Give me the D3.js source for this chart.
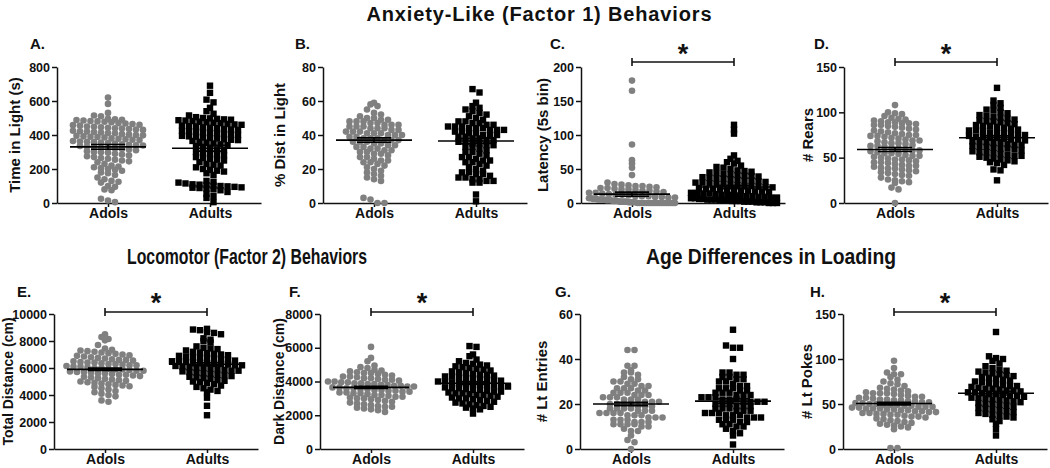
<!DOCTYPE html>
<html><head><meta charset="utf-8">
<script src="https://cdn.jsdelivr.net/npm/d3@7"></script>
<style>
body{margin:0;background:#fff;}
text{font-family:Arial,"Liberation Sans",sans-serif;}
</style>
</head><body>
<svg id="c" width="1050" height="468"></svg>
<script>
// ---------------- DATA ----------------
const categories = ["Adols", "Adults"];
const panelLetters = ["A.", "B.", "C.", "D.", "E.", "F.", "G.", "H."];
const yLabels = ["Time in Light (s)", "% Dist in Light", "Latency (5s bin)", "# Rears",
                 "Total Distance (cm)", "Dark Distance (cm)", "# Lt Entries", "# Lt Pokes"];
const yTicks = [
  [0, 200, 400, 600, 800], [0, 20, 40, 60, 80], [0, 50, 100, 150, 200], [0, 50, 100, 150],
  [0, 2000, 4000, 6000, 8000, 10000], [0, 2000, 4000, 6000, 8000], [0, 20, 40, 60], [0, 50, 100, 150]
];
const sectionTitles = ["Anxiety-Like (Factor 1) Behaviors", "Locomotor (Factor 2) Behaviors", "Age Differences in Loading"];
const significant = [false, false, true, true, true, true, false, true];
const groupMeans = [[330, 322], [37, 36.5], [13, 23.5], [59, 72], [5900, 6280], [3650, 3900], [20, 21.3], [50.5, 62]];
const groupSEM = [[14, 17], [1.3, 1.5], [3, 2.5], [2.2, 2], [90, 110], [60, 80], [0.8, 1], [1.5, 2]];

const adolsA = [620, 583, 530, 515, 510, 495, 492, 490, 488, 485, 482, 480, 478, 475, 470, 468, 465, 460, 458, 455, 450, 448, 445, 442, 440, 438, 435, 432, 430, 425, 422, 420, 418, 415, 412, 410, 405, 402, 400, 398, 395, 392, 390, 388, 385, 380, 378, 375, 372, 370, 365, 362, 360, 358, 355, 352, 350, 345, 342, 340, 338, 335, 332, 330, 325, 322, 320, 318, 315, 310, 305, 300, 298, 295, 290, 285, 280, 275, 270, 265, 260, 255, 250, 245, 240, 230, 220, 215, 210, 205, 200, 195, 190, 180, 175, 165, 150, 140, 130, 125, 120, 100, 95, 80, 75, 25, 15, 5];
const adultsA = [690, 648, 608, 592, 560, 540, 525, 515, 505, 500, 498, 495, 492, 490, 487, 485, 482, 478, 475, 472, 470, 465, 462, 460, 455, 452, 450, 445, 442, 440, 435, 432, 430, 425, 422, 420, 415, 412, 410, 405, 402, 400, 395, 392, 390, 385, 382, 380, 375, 372, 370, 365, 360, 355, 350, 345, 340, 335, 330, 320, 315, 310, 300, 295, 290, 285, 280, 270, 265, 260, 255, 250, 240, 230, 225, 220, 210, 200, 195, 190, 185, 175, 165, 130, 125, 120, 115, 110, 108, 105, 102, 100, 98, 95, 92, 90, 88, 85, 80, 75, 65, 55, 40, 30, 5];
const adolsB = [59, 58, 57, 55, 53, 52, 51, 50, 50, 49, 49, 48, 48, 48, 47, 47, 46, 46, 46, 45, 45, 45, 44, 44, 44, 43, 43, 42, 42, 42, 41, 41, 41, 40, 40, 40, 39, 39, 38, 38, 38, 37, 37, 37, 36, 36, 36, 35, 35, 34, 34, 33, 33, 32, 32, 31, 31, 30, 30, 29, 29, 28, 27, 27, 26, 25, 25, 24, 24, 23, 22, 21, 20, 19, 18, 17, 16, 15, 14, 13, 3, 2, 0, 0];
const adultsB = [67, 65, 59, 57, 56, 55, 54, 53, 52, 51, 50, 49, 48, 48, 47, 47, 46, 46, 45, 45, 45, 44, 44, 44, 43, 43, 43, 42, 42, 41, 41, 40, 40, 40, 39, 39, 38, 38, 37, 37, 36, 36, 35, 35, 34, 34, 33, 33, 32, 31, 30, 30, 29, 28, 27, 27, 26, 25, 25, 24, 24, 23, 22, 21, 20, 19, 18, 18, 17, 17, 16, 15, 15, 14, 14, 13, 13, 12, 12, 5, 1];
const adolsC = [180, 165, 86, 63, 58, 52, 41, 30, 28, 27, 26, 25, 25, 24, 23, 22, 22, 21, 20, 20, 19, 18, 18, 17, 16, 15, 15, 14, 13, 12, 12, 11, 10, 10, 10, 9, 9, 8, 8, 7, 7, 6, 6, 5, 5, 5, 5, 4, 4, 4, 3, 3, 3, 2, 2, 2, 2, 1, 1, 1, 1, 0, 0, 0, 0, 0, 0, 0, 0, 0, 0, 0, 0, 0, 0, 0, 0, 0, 0];
const adultsC = [115, 108, 102, 70, 65, 62, 60, 58, 55, 53, 52, 50, 48, 47, 46, 45, 44, 43, 42, 41, 40, 40, 39, 38, 37, 36, 36, 35, 34, 33, 33, 32, 31, 30, 30, 29, 28, 28, 27, 26, 25, 25, 24, 23, 23, 22, 21, 21, 20, 20, 19, 18, 18, 17, 17, 16, 15, 15, 14, 14, 13, 12, 12, 11, 11, 10, 10, 9, 9, 8, 8, 7, 7, 6, 6, 5, 5, 5, 4, 4, 4, 3, 3, 3, 2, 2, 2, 1, 1, 1, 0, 0, 0];
const adolsD = [108, 100, 99, 98, 96, 94, 93, 92, 91, 90, 89, 89, 88, 88, 87, 86, 86, 85, 84, 83, 82, 81, 80, 79, 78, 77, 76, 75, 75, 74, 74, 73, 72, 71, 70, 69, 69, 68, 67, 66, 66, 65, 64, 63, 63, 62, 61, 60, 59, 58, 58, 57, 56, 55, 55, 54, 53, 52, 52, 51, 50, 49, 48, 48, 47, 46, 45, 45, 44, 43, 42, 41, 41, 40, 39, 38, 38, 37, 36, 35, 34, 33, 32, 31, 30, 28, 26, 25, 24, 23, 22, 17, 15, 0];
const adultsD = [127, 113, 110, 108, 105, 103, 102, 100, 99, 97, 96, 95, 94, 93, 92, 91, 90, 90, 89, 88, 87, 86, 85, 85, 84, 83, 82, 81, 80, 80, 79, 78, 77, 77, 76, 75, 75, 74, 73, 73, 72, 72, 71, 70, 70, 69, 68, 68, 67, 66, 66, 65, 64, 64, 63, 62, 62, 61, 60, 60, 59, 58, 57, 56, 56, 55, 54, 53, 52, 52, 51, 50, 49, 48, 47, 46, 45, 44, 42, 37, 36, 25];
const adolsE = [8500, 8300, 8150, 8050, 7700, 7450, 7350, 7300, 7250, 7200, 7150, 7100, 7050, 7000, 6950, 6900, 6850, 6800, 6750, 6700, 6650, 6600, 6600, 6550, 6500, 6450, 6400, 6400, 6350, 6300, 6300, 6250, 6200, 6200, 6150, 6100, 6100, 6050, 6000, 6000, 5950, 5900, 5900, 5850, 5800, 5800, 5750, 5700, 5700, 5650, 5600, 5600, 5550, 5500, 5500, 5450, 5400, 5350, 5300, 5250, 5200, 5150, 5100, 5050, 5000, 4950, 4900, 4850, 4800, 4750, 4700, 4650, 4600, 4500, 4400, 4300, 4200, 4100, 4000, 3900, 3600, 3500];
const adultsE = [8900, 8850, 8800, 8650, 8600, 8500, 8200, 8100, 8000, 7900, 7600, 7500, 7450, 7400, 7300, 7200, 7150, 7100, 7050, 7000, 6950, 6900, 6850, 6800, 6750, 6700, 6700, 6650, 6600, 6550, 6500, 6500, 6450, 6400, 6400, 6350, 6300, 6300, 6250, 6200, 6200, 6150, 6100, 6050, 6000, 6000, 5950, 5900, 5850, 5800, 5800, 5750, 5700, 5650, 5600, 5550, 5500, 5450, 5400, 5350, 5300, 5250, 5200, 5100, 5050, 5000, 4950, 4900, 4800, 4700, 4600, 4500, 4400, 4300, 4200, 3800, 3200, 2500];
const adolsF = [6050, 5400, 5200, 4950, 4850, 4800, 4700, 4650, 4600, 4550, 4500, 4500, 4450, 4400, 4350, 4300, 4300, 4250, 4200, 4200, 4150, 4100, 4100, 4050, 4000, 4000, 3950, 3950, 3900, 3900, 3850, 3850, 3800, 3800, 3750, 3750, 3700, 3700, 3650, 3650, 3600, 3600, 3550, 3550, 3500, 3500, 3450, 3450, 3400, 3400, 3350, 3350, 3300, 3300, 3250, 3200, 3200, 3150, 3100, 3100, 3050, 3000, 3000, 2950, 2900, 2850, 2800, 2750, 2700, 2650, 2600, 2550, 2500, 2500, 2450, 2400, 2350, 2300, 2200];
const adultsF = [6100, 6050, 5600, 5500, 5300, 5200, 5100, 5050, 5000, 4950, 4900, 4850, 4800, 4750, 4700, 4650, 4600, 4550, 4500, 4450, 4400, 4400, 4350, 4300, 4300, 4250, 4200, 4200, 4150, 4100, 4100, 4050, 4000, 4000, 3950, 3900, 3900, 3850, 3800, 3800, 3750, 3700, 3700, 3650, 3600, 3600, 3550, 3500, 3500, 3450, 3400, 3400, 3350, 3300, 3300, 3250, 3200, 3200, 3150, 3100, 3050, 3000, 3000, 2950, 2900, 2850, 2800, 2750, 2700, 2650, 2600, 2550, 2500, 2450, 2400, 2350, 2100];
const adolsG = [44, 44, 37, 37, 35, 34, 34, 33, 32, 31, 31, 30, 30, 29, 29, 28, 28, 27, 27, 27, 26, 26, 25, 25, 25, 24, 24, 24, 23, 23, 23, 22, 22, 22, 21, 21, 21, 20, 20, 20, 20, 19, 19, 19, 18, 18, 18, 18, 17, 17, 17, 16, 16, 16, 16, 15, 15, 15, 14, 14, 14, 13, 13, 13, 12, 12, 12, 11, 11, 11, 11, 10, 10, 9, 8, 8, 6, 4, 3, 0];
const adultsG = [53, 46, 45, 45, 40, 34, 34, 33, 33, 32, 32, 31, 31, 30, 30, 29, 28, 28, 27, 27, 27, 26, 26, 25, 25, 25, 24, 24, 24, 23, 23, 23, 22, 22, 22, 21, 21, 21, 21, 20, 20, 20, 19, 19, 19, 18, 18, 18, 17, 17, 17, 16, 16, 16, 15, 15, 15, 14, 14, 14, 13, 13, 13, 12, 12, 11, 11, 10, 10, 9, 8, 7, 6, 2];
const adolsH = [98, 90, 85, 83, 83, 80, 77, 75, 73, 72, 70, 68, 67, 66, 65, 64, 63, 62, 62, 62, 61, 60, 59, 58, 58, 57, 57, 56, 55, 55, 54, 54, 53, 53, 52, 52, 51, 51, 50, 50, 49, 49, 49, 48, 48, 47, 47, 47, 46, 46, 45, 45, 45, 44, 44, 43, 43, 42, 42, 41, 41, 40, 40, 39, 39, 38, 38, 37, 36, 36, 35, 34, 33, 32, 31, 30, 29, 28, 27, 26, 25, 24, 22, 1, 1];
const adultsH = [130, 103, 101, 100, 98, 95, 92, 90, 88, 87, 86, 85, 84, 83, 82, 81, 80, 79, 78, 77, 76, 75, 74, 73, 72, 71, 70, 70, 69, 68, 67, 67, 66, 65, 65, 64, 63, 63, 62, 61, 61, 60, 59, 59, 58, 57, 57, 56, 55, 55, 54, 53, 52, 51, 50, 50, 49, 48, 47, 46, 45, 44, 43, 42, 41, 40, 39, 38, 37, 36, 35, 33, 31, 28, 22, 15];

const adolsSeries = [adolsA, adolsB, adolsC, adolsD, adolsE, adolsF, adolsG, adolsH];
const adultsSeries = [adultsA, adultsB, adultsC, adultsD, adultsE, adultsF, adultsG, adultsH];

// ---------------- LAYOUT ----------------
const svg = d3.select("#c");
const FONT = "Arial, 'Liberation Sans', sans-serif";
const rows = [
  {y0: 203, yTop: 67, letterY: 49, sigY: 62, starY: 48},
  {y0: 449, yTop: 314, letterY: 297, sigY: 312, starY: 297}
];
const panels = [
  {left: 57, row: 0, letterX: 30, labelX: 15, labelSize: 15},
  {left: 323, row: 0, letterX: 295, labelX: 280, labelSize: 15},
  {left: 581, row: 0, letterX: 550, labelX: 543, labelSize: 15},
  {left: 844, row: 0, letterX: 814, labelX: 808, labelSize: 15},
  {left: 54, row: 1, letterX: 17, labelX: 8, labelSize: 14},
  {left: 320, row: 1, letterX: 289, labelX: 279, labelSize: 14},
  {left: 580, row: 1, letterX: 555, labelX: 542, labelSize: 15},
  {left: 843, row: 1, letterX: 810, labelX: 807, labelSize: 15}
];
const axisW = 204;
const grayCol = "#808080";

function swarm(values, y, cx) {
  const pts = values.map(v => ({v, py: y(v)})).sort((a, b) => a.py - b.py);
  const binH = 5.2;
  const bins = new Map();
  pts.forEach(p => {
    const k = Math.floor((y.range()[0] - p.py) / binH);
    if (!bins.has(k)) bins.set(k, []);
    bins.get(k).push(p);
  });
  const out = [];
  bins.forEach(arr => {
    const n = arr.length;
    const sp = n > 1 ? Math.min(7, 86 / (n - 1)) : 0;
    arr.forEach((p, i) => out.push({v: p.v, px: cx + (i - (n - 1) / 2) * sp, py: p.py}));
  });
  return out;
}

panels.forEach((P, idx) => {
  const R = rows[P.row];
  const ticks = yTicks[idx];
  const y = d3.scaleLinear().domain([0, d3.max(ticks)]).range([R.y0, R.yTop]);
  const x = d3.scalePoint().domain(categories).range([P.left, P.left + axisW]).padding(0.5);
  const g = svg.append("g");

  const ya = g.append("g").attr("transform", `translate(${P.left},0)`)
    .call(d3.axisLeft(y).tickValues(ticks).tickFormat(d3.format("d")).tickSize(5).tickSizeOuter(0).tickPadding(2));
  ya.selectAll("path,line").attr("stroke", "#111").attr("stroke-width", 1.5);
  ya.selectAll("text").attr("font-size", 12.5).attr("font-weight", "bold").attr("fill", "#111")
    .attr("font-family", FONT);

  const xa = g.append("g").attr("transform", `translate(0,${R.y0})`)
    .call(d3.axisBottom(x).tickSize(4).tickSizeOuter(0).tickPadding(1));
  xa.selectAll("path,line").attr("stroke", "#111").attr("stroke-width", 1.5);
  xa.selectAll("text").attr("font-size", 14).attr("font-weight", "bold").attr("fill", "#111")
    .attr("font-family", FONT);

  g.append("text")
    .attr("transform", `translate(${P.labelX},${(R.y0 + R.yTop) / 2}) rotate(-90)`)
    .attr("text-anchor", "middle").attr("dy", "0.35em")
    .attr("font-size", P.labelSize).attr("font-weight", "bold").attr("fill", "#111")
    .text(yLabels[idx]);

  g.append("text").attr("x", P.letterX).attr("y", R.letterY)
    .attr("font-size", 15).attr("font-weight", "bold").attr("fill", "#111")
    .text(panelLetters[idx]);

  const adPts = swarm(adolsSeries[idx], y, x("Adols"));
  g.append("g").selectAll("circle").data(adPts).join("circle")
    .attr("cx", d => d.px).attr("cy", d => d.py).attr("r", 3.3).attr("fill", grayCol);
  const auPts = swarm(adultsSeries[idx], y, x("Adults"));
  const s = 6.4;
  g.append("g").selectAll("rect").data(auPts).join("rect")
    .attr("x", d => d.px - s / 2).attr("y", d => d.py - s / 2)
    .attr("width", s).attr("height", s).attr("fill", "#000");

  categories.forEach((c, ci) => {
    const cx = x(c), m = groupMeans[idx][ci], e = groupSEM[idx][ci];
    const lg = g.append("g").attr("stroke", "#000").attr("stroke-width", 1.6);
    lg.append("line").attr("x1", cx - 38).attr("x2", cx + 38).attr("y1", y(m)).attr("y2", y(m));
    lg.append("line").attr("x1", cx).attr("x2", cx).attr("y1", y(m - e)).attr("y2", y(m + e));
    [m - e, m + e].forEach(v => lg.append("line").attr("x1", cx - 17).attr("x2", cx + 17).attr("y1", y(v)).attr("y2", y(v)));
  });

  if (significant[idx]) {
    const x1 = x("Adols"), x2 = x("Adults");
    const sg = g.append("g").attr("stroke", "#111").attr("stroke-width", 1.6);
    sg.append("line").attr("x1", x1).attr("x2", x2).attr("y1", R.sigY).attr("y2", R.sigY);
    [x1, x2].forEach(xx => sg.append("line").attr("x1", xx).attr("x2", xx).attr("y1", R.sigY - 4).attr("y2", R.sigY + 4));
    g.append("text").attr("x", (x1 + x2) / 2).attr("y", R.starY + 15).attr("text-anchor", "middle")
      .attr("font-size", 27).attr("font-weight", "bold").attr("fill", "#111").text("*");
  }
});

svg.append("text").attr("x", 539).attr("y", 21).attr("text-anchor", "middle")
  .attr("font-size", 20).attr("font-weight", "bold").attr("fill", "#111")
  .attr("textLength", 345).attr("lengthAdjust", "spacing").text(sectionTitles[0]);
svg.append("text").attr("x", 247).attr("y", 264).attr("text-anchor", "middle")
  .attr("font-size", 22).attr("font-weight", "bold").attr("fill", "#111")
  .attr("textLength", 240).attr("lengthAdjust", "spacingAndGlyphs").text(sectionTitles[1]);
svg.append("text").attr("x", 771).attr("y", 264).attr("text-anchor", "middle")
  .attr("font-size", 22).attr("font-weight", "bold").attr("fill", "#111")
  .attr("textLength", 250).attr("lengthAdjust", "spacingAndGlyphs").text(sectionTitles[2]);
</script>
</body></html>
